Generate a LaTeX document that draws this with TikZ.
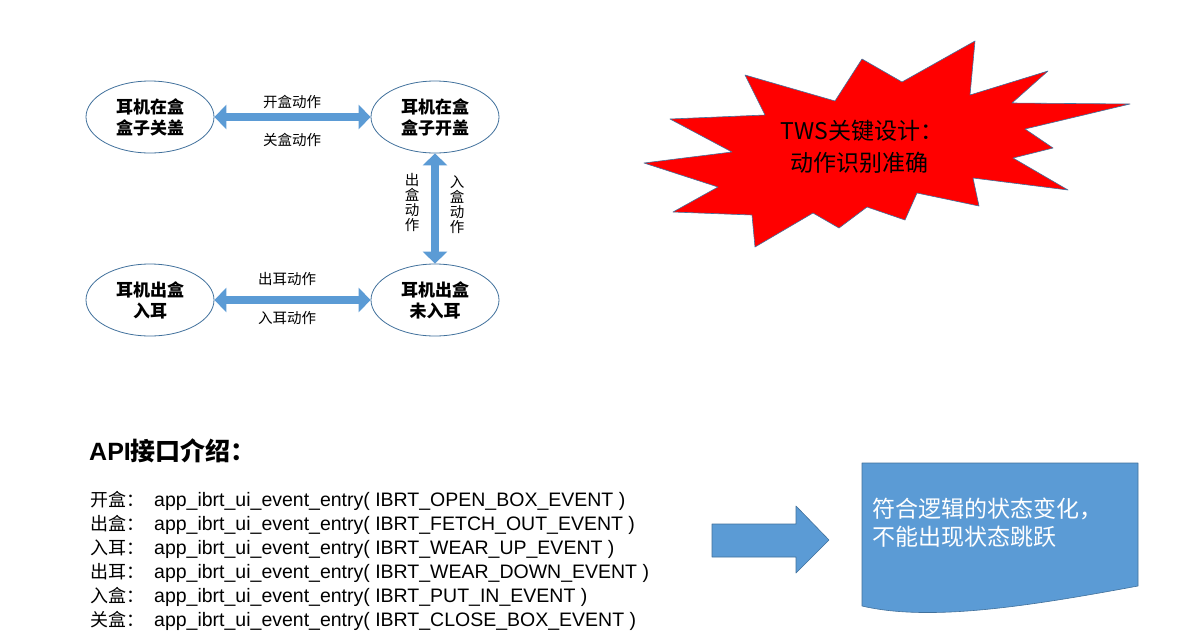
\documentclass[tikz,border=0pt]{standalone}
\usepackage{fontspec}
\setmainfont{Liberation Sans}
\newfontfamily\cjk{Noto Sans CJK SC}
\usetikzlibrary{arrows.meta,shapes.geometric}

\definecolor{arrowblue}{RGB}{91,155,213}
\definecolor{edgeblue}{RGB}{65,113,156}

\tikzset{
  state/.style={ellipse, draw=edgeblue, line width=0.8pt, minimum width=128pt, minimum height=72pt,
    inner sep=0pt, align=center, font=\cjk\bfseries\fontsize{17}{21}\selectfont},
  move/.style={draw=arrowblue, line width=8pt,
    {Triangle[length=12pt,width=24pt]}-{Triangle[length=12pt,width=24pt]}},
  movelabel/.style={inner sep=0pt, align=center, font=\cjk\fontsize{14.5}{15}\selectfont},
  codeline/.style={anchor=west, inner sep=0pt, font=\fontsize{19.5}{20}\selectfont},
}

\begin{document}
\begin{tikzpicture}[x=1pt, y=-1pt, line join=round]
\useasboundingbox[fill=white] (0,0) rectangle (1184,641);

% states
\node[state] (closedbox)  at (150,117) {耳机在盒\\盒子关盖};
\node[state] (openbox)    at (435,117) {耳机在盒\\盒子开盖};
\node[state] (worn)       at (150,300) {耳机出盒\\入耳};
\node[state] (outnotworn) at (435,300) {耳机出盒\\未入耳};

\draw[move] (closedbox) -- (openbox);
\draw[move] (openbox) -- (outnotworn);
\draw[move] (worn) -- (outnotworn);

\node[movelabel] (open)  at (292,102) {开盒动作};
\node[movelabel] (close) at (292,140) {关盒动作};
\node[movelabel] (takeoff) at (287,279) {出耳动作};
\node[movelabel] (puton)   at (287,318) {入耳动作};
\node[movelabel] (fetch) at (412,202) {出\\盒\\动\\作};
\node[movelabel] (putin) at (457,205) {入\\盒\\动\\作};

% key point
\draw[edgeblue, line width=0.6pt, fill=red]
  (745,75) -- (835,101) -- (862,59) -- (902,82) -- (975,41) -- (970,95)
  -- (1048,71) -- (1012,103) -- (1130,104) -- (1025,129) -- (1053,148)
  -- (1013,158) -- (1068,190) -- (973,178) -- (979,206) -- (917,193)
  -- (905,220) -- (867,207) -- (839,228) -- (813,213) -- (755,247)
  -- (752,215) -- (673,212) -- (718,187) -- (644,163) -- (732,152)
  -- (670,119) -- (765,115) -- cycle;
\node[inner sep=0pt, align=left, font=\cjk\fontsize{23}{32}\selectfont] (keypoint) at (862,147)
  {TWS关键设计：\\\hspace{10pt}动作识别准确};

% api
\node[anchor=west, inner sep=0pt, font=\bfseries\fontsize{25}{28}\selectfont] (api) at (89,451)
  {API{\cjk 接口介绍：}};
\node[codeline] (line1) at (90,501) {\makebox[64pt][l]{\cjk\fontsize{18}{20}\selectfont 开盒：}app\_ibrt\_ui\_event\_entry( IBRT\_OPEN\_BOX\_EVENT )};
\node[codeline] (line2) at (90,525) {\makebox[64pt][l]{\cjk\fontsize{18}{20}\selectfont 出盒：}app\_ibrt\_ui\_event\_entry( IBRT\_FETCH\_OUT\_EVENT )};
\node[codeline] (line3) at (90,549) {\makebox[64pt][l]{\cjk\fontsize{18}{20}\selectfont 入耳：}app\_ibrt\_ui\_event\_entry( IBRT\_WEAR\_UP\_EVENT )};
\node[codeline] (line4) at (90,573) {\makebox[64pt][l]{\cjk\fontsize{18}{20}\selectfont 出耳：}app\_ibrt\_ui\_event\_entry( IBRT\_WEAR\_DOWN\_EVENT )};
\node[codeline] (line5) at (90,597) {\makebox[64pt][l]{\cjk\fontsize{18}{20}\selectfont 入盒：}app\_ibrt\_ui\_event\_entry( IBRT\_PUT\_IN\_EVENT )};
\node[codeline] (line6) at (90,621) {\makebox[64pt][l]{\cjk\fontsize{18}{20}\selectfont 关盒：}app\_ibrt\_ui\_event\_entry( IBRT\_CLOSE\_BOX\_EVENT )};

% result
\draw[edgeblue, line width=0.6pt, fill=arrowblue]
  (712,524) -- (796,524) -- (796,506) -- (829,540) -- (796,573) -- (796,557) -- (712,557) -- cycle;
\draw[edgeblue, line width=0.6pt, fill=arrowblue]
  (862,463) -- (1138,463) -- (1138,586) .. controls (1030,606) and (930,622) .. (862,606) -- cycle;
\node[anchor=north west, inner sep=0pt, align=left, text=white, font=\cjk\fontsize{23}{28}\selectfont] (rule) at (872,498)
  {符合逻辑的状态变化，\\不能出现状态跳跃};

\end{tikzpicture}
\end{document}
